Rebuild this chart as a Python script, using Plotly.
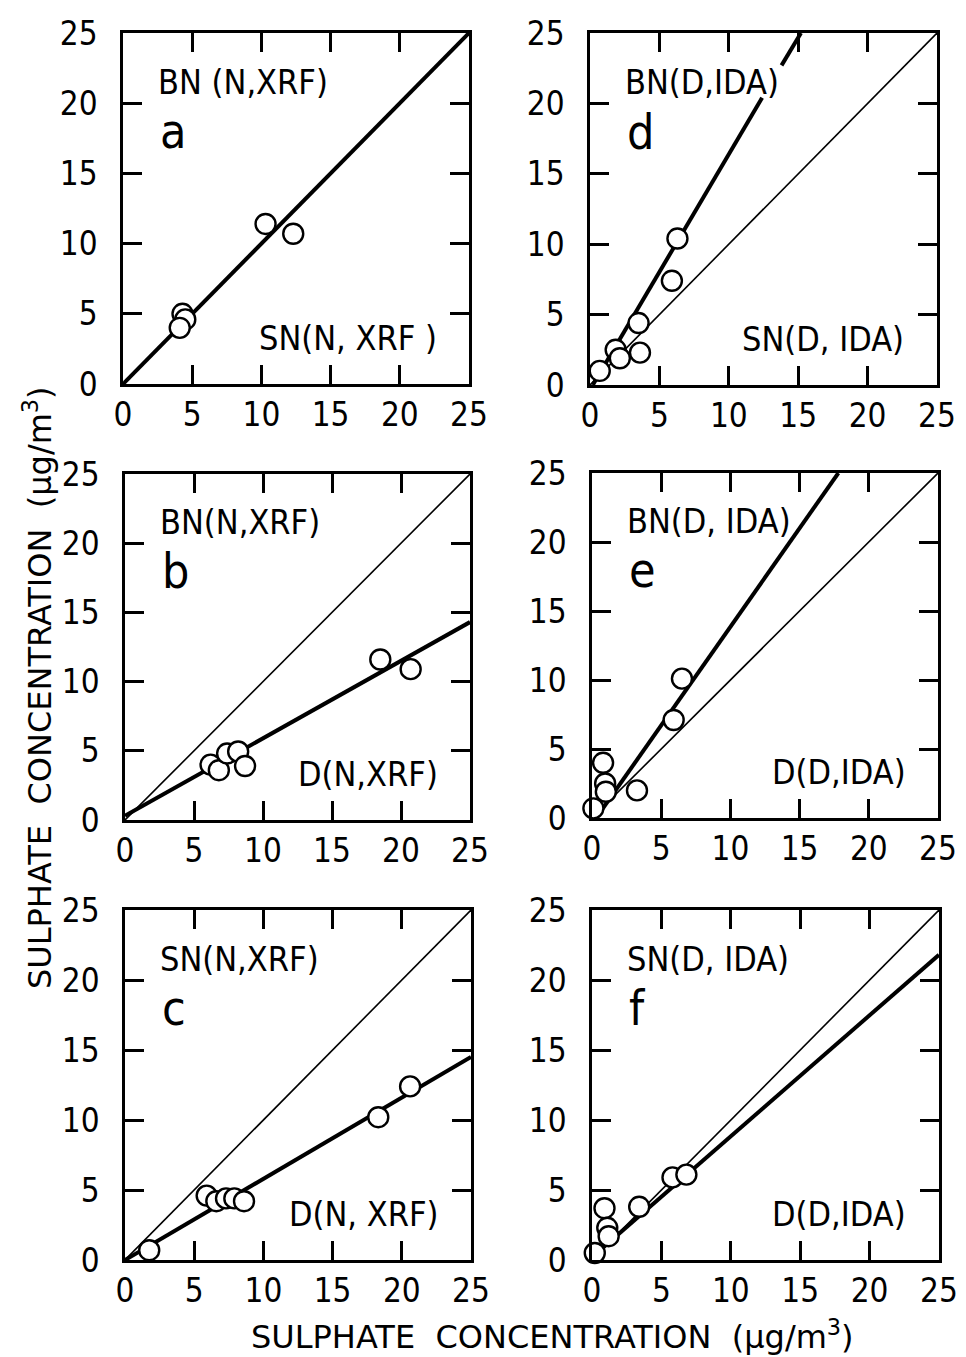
import plotly.graph_objects as go

# ---------------- data ----------------
tick_vals = [0, 5, 10, 15, 20, 25]
tick_text = ["0", "5", "10", "15", "20", "25"]

# panel a : BN(N,XRF) vs SN(N,XRF)
a_x = [4.3, 4.5, 4.1, 10.3, 12.3]
a_y = [5.0, 4.6, 4.0, 11.4, 10.7]
a_fit_x = [0, 25]
a_fit_y = [0, 25]

# panel b : BN(N,XRF) vs D(N,XRF)
b_x = [6.2, 6.8, 7.4, 8.2, 8.7, 18.5, 20.7]
b_y = [4.0, 3.6, 4.8, 4.95, 3.9, 11.6, 10.9]
b_fit_x = [0, 25]
b_fit_y = [0.3, 14.3]

# panel c : SN(N,XRF) vs D(N,XRF)
c_x = [1.75, 5.9, 6.6, 7.3, 7.9, 8.6, 18.3, 20.6]
c_y = [0.7, 4.6, 4.2, 4.4, 4.4, 4.2, 10.2, 12.4]
c_fit_x = [0, 25]
c_fit_y = [0, 14.5]

# panel d : BN(D,IDA) vs SN(D,IDA)
d_x = [0.7, 1.85, 2.15, 3.5, 3.6, 5.9, 6.3]
d_y = [1.0, 2.5, 1.9, 4.4, 2.3, 7.4, 10.4]
d_fit_x = [0.2, 12.4, None, 13.8, 15.2]
d_fit_y = [0.0, 20.4, None, 22.7, 25.0]

# panel e : BN(D,IDA) vs D(D,IDA)
e_x = [0.1, 0.8, 0.95, 1.0, 3.25, 5.9, 6.5]
e_y = [0.7, 4.0, 2.5, 1.9, 2.0, 7.1, 10.1]
e_fit_x = [0.3, 17.8]
e_fit_y = [0.0, 25.0]

# panel f : SN(D,IDA) vs D(D,IDA)
f_x = [0.2, 0.9, 1.1, 1.2, 3.4, 5.8, 6.8]
f_y = [0.5, 3.7, 2.3, 1.7, 3.8, 5.9, 6.1]
f_fit_x = [0, 25]
f_fit_y = [0.2, 21.8]

# 1:1 reference line
one_x = [0, 25]
one_y = [0, 25]

panels = [
    ("", a_x, a_y, a_fit_x, a_fit_y, False, "BN (N,XRF)", "a", "SN(N, XRF )"),
    ("2", b_x, b_y, b_fit_x, b_fit_y, True, "BN(N,XRF)", "b", "D(N,XRF)"),
    ("3", c_x, c_y, c_fit_x, c_fit_y, True, "SN(N,XRF)", "c", "D(N, XRF)"),
    ("4", d_x, d_y, d_fit_x, d_fit_y, True, "BN(D,IDA)", "d", "SN(D, IDA)"),
    ("5", e_x, e_y, e_fit_x, e_fit_y, True, "BN(D, IDA)", "e", "D(D,IDA)"),
    ("6", f_x, f_y, f_fit_x, f_fit_y, True, "SN(D, IDA)", "f", "D(D,IDA)"),
]

W, H = 966, 1357
FONT = "DejaVu Sans Condensed, DejaVu Sans, sans-serif"
TFONT = "DejaVu Sans, sans-serif"

# pixel boxes (left, right, top, bottom)
boxes = [
    (123, 469, 33, 384),
    (125, 470, 474, 820),
    (125, 471, 910, 1260),
    (590, 937, 33, 385),
    (592, 938, 473, 818),
    (592, 939, 910, 1260),
]

fig = go.Figure()

for (key, px, py, fx, fy, one, up, let, low), (l, r, t, b) in zip(panels, boxes):
    xa = "x" + key
    ya = "y" + key
    if one:
        fig.add_trace(go.Scatter(x=one_x, y=one_y, xaxis=xa, yaxis=ya, mode="lines",
                                 line=dict(color="black", width=1.6), showlegend=False,
                                 hoverinfo="skip"))
    fig.add_trace(go.Scatter(x=fx, y=fy, xaxis=xa, yaxis=ya, mode="lines",
                             line=dict(color="black", width=4), showlegend=False,
                             connectgaps=False, hoverinfo="skip"))
    fig.add_trace(go.Scatter(x=px, y=py, xaxis=xa, yaxis=ya, mode="markers",
                             marker=dict(symbol="circle", size=20, color="white",
                                         line=dict(color="black", width=2.4)),
                             cliponaxis=False, showlegend=False))
    axcommon = dict(range=[0, 25], tickvals=tick_vals, ticktext=tick_text,
                    ticks="inside", ticklen=19, tickwidth=2.5, tickcolor="black",
                    showline=True, linewidth=2.5, linecolor="black", mirror="ticks",
                    showgrid=False, zeroline=False, automargin=False,
                    tickfont=dict(family=FONT, size=33, color="black"))
    xname = "xaxis" + key
    yname = "yaxis" + key
    fig.update_layout(**{
        xname: dict(domain=[l / W, r / W], anchor=ya, ticklabelstandoff=0, **axcommon),
        yname: dict(domain=[1 - b / H, 1 - t / H], anchor=xa, ticklabelstandoff=16, **axcommon),
    })
    fig.add_annotation(x=2.4, y=21.5, xref=xa, yref=ya, text=up, showarrow=False,
                       xanchor="left", yanchor="middle",
                       font=dict(family=FONT, size=34, color="black"))
    fig.add_annotation(x=2.5, y=18.0, xref=xa, yref=ya, text=let, showarrow=False,
                       xanchor="left", yanchor="middle",
                       font=dict(family=FONT, size=48, color="black"))
    fig.add_annotation(x=22.8, y=3.3, xref=xa, yref=ya, text=low, showarrow=False,
                       xanchor="right", yanchor="middle",
                       font=dict(family=FONT, size=34, color="black"))

fig.add_annotation(x=552 / W, y=1 - 1335 / H, xref="paper", yref="paper",
                   text="SULPHATE  CONCENTRATION  (μg/m<sup>3</sup>)", showarrow=False,
                   xanchor="center", yanchor="middle",
                   font=dict(family=TFONT, size=32, color="black"))
fig.add_annotation(x=38 / W, y=1 - 688 / H, xref="paper", yref="paper",
                   text="SULPHATE  CONCENTRATION  (μg/m<sup>3</sup>)", showarrow=False,
                   textangle=-90, xanchor="center", yanchor="middle",
                   font=dict(family=TFONT, size=32, color="black"))

fig.update_layout(width=W, height=H, margin=dict(l=0, r=0, t=0, b=0),
                  paper_bgcolor="white", plot_bgcolor="white", showlegend=False)

fig.write_html("out.html")
